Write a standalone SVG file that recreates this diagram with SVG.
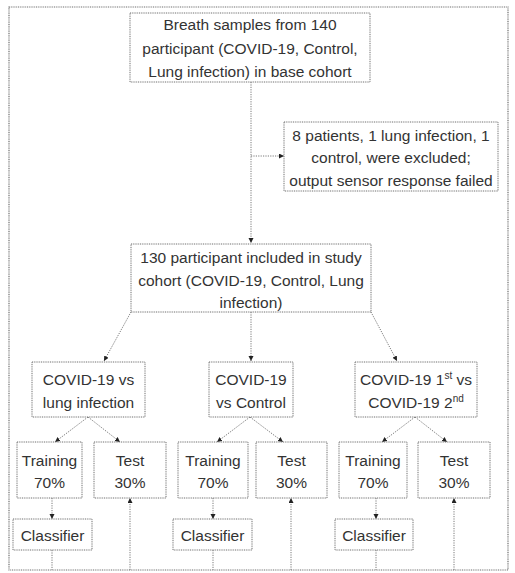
<svg xmlns="http://www.w3.org/2000/svg" width="515" height="573" viewBox="0 0 515 573">
<style>
.box{fill:#fff;stroke:#6e6e6e;stroke-width:1;stroke-dasharray:1 0.8}
.frame{fill:#fff;stroke:#6e6e6e;stroke-width:1.2;stroke-dasharray:1 0.8}
.t{font-family:"Liberation Sans",Arial,sans-serif;font-size:15.5px;fill:#333;text-anchor:middle}
.sup{font-size:10px}
.c{fill:none;stroke:#7a7a7a;stroke-width:1;stroke-dasharray:1.2 1.2}
</style>
<defs>
<marker id="ah" markerUnits="userSpaceOnUse" markerWidth="6" markerHeight="6" refX="5" refY="2.5" orient="auto">
<path d="M0,0 L5,2.5 L0,5 z" fill="#222"/>
</marker>
</defs>
<rect class="frame" x="9" y="7" width="499" height="563"/>
<g id="connectors">
<path class="c" d="M251,82 V243" marker-end="url(#ah)"/>
<path class="c" d="M251,156 H284" marker-end="url(#ah)"/>
<path class="c" d="M131,312 L104,361" marker-end="url(#ah)"/>
<path class="c" d="M251,312 V361" marker-end="url(#ah)"/>
<path class="c" d="M371,312 L397,361" marker-end="url(#ah)"/>
<path class="c" d="M88,417 L55,442" marker-end="url(#ah)"/>
<path class="c" d="M88,417 L120,442" marker-end="url(#ah)"/>
<path class="c" d="M250,417 L217,442" marker-end="url(#ah)"/>
<path class="c" d="M250,417 L283,442" marker-end="url(#ah)"/>
<path class="c" d="M415,417 L382,442" marker-end="url(#ah)"/>
<path class="c" d="M415,417 L447,442" marker-end="url(#ah)"/>
<path class="c" d="M52,498 V519" marker-end="url(#ah)"/>
<path class="c" d="M213,498 V519" marker-end="url(#ah)"/>
<path class="c" d="M376,498 V519" marker-end="url(#ah)"/>
<path class="c" d="M130,570 V498" marker-end="url(#ah)"/>
<path class="c" d="M291,570 V498" marker-end="url(#ah)"/>
<path class="c" d="M454,570 V498" marker-end="url(#ah)"/>
<path class="c" d="M52,550 V570"/>
<path class="c" d="M213,550 V570"/>
<path class="c" d="M376,550 V570"/>
</g>
<g id="base">
<rect class="box" x="130" y="13" width="240" height="69"/>
<text class="t" x="250" y="30">Breath samples from 140</text>
<text class="t" x="250" y="54">participant (COVID-19, Control,</text>
<text class="t" x="250" y="77">Lung infection) in base cohort</text>
</g>
<g id="excluded">
<rect class="box" x="284" y="122" width="214" height="69"/>
<text class="t" x="391" y="141">8 patients, 1 lung infection, 1</text>
<text class="t" x="391" y="163">control, were excluded;</text>
<text class="t" x="391" y="186">output sensor response failed</text>
</g>
<g id="study">
<rect class="box" x="131" y="244" width="240" height="68"/>
<text class="t" x="251" y="263">130 participant included in study</text>
<text class="t" x="251" y="286">cohort (COVID-19, Control, Lung</text>
<text class="t" x="251" y="308">infection)</text>
</g>
<g id="cmp1">
<rect class="box" x="32" y="362" width="113" height="55"/>
<text class="t" x="88.5" y="385">COVID-19 vs</text>
<text class="t" x="88.5" y="408">lung infection</text>
</g>
<g id="cmp2">
<rect class="box" x="209" y="362" width="84" height="55"/>
<text class="t" x="251" y="385">COVID-19</text>
<text class="t" x="251" y="408">vs Control</text>
</g>
<g id="cmp3">
<rect class="box" x="355" y="362" width="122" height="55"/>
<text class="t" x="416" y="385">COVID-19 1<tspan class="sup" dy="-6">st</tspan><tspan dy="6"> vs</tspan></text>
<text class="t" x="416" y="408">COVID-19 2<tspan class="sup" dy="-6">nd</tspan></text>
</g>
<g id="train1">
<rect class="box" x="17" y="442" width="65" height="56"/>
<text class="t" x="49.5" y="466">Training</text>
<text class="t" x="49.5" y="488">70%</text>
</g>
<g id="test1">
<rect class="box" x="94" y="442" width="72" height="56"/>
<text class="t" x="130" y="466">Test</text>
<text class="t" x="130" y="488">30%</text>
</g>
<g id="train2">
<rect class="box" x="178" y="442" width="70" height="56"/>
<text class="t" x="213" y="466">Training</text>
<text class="t" x="213" y="488">70%</text>
</g>
<g id="test2">
<rect class="box" x="256" y="442" width="71" height="56"/>
<text class="t" x="291.5" y="466">Test</text>
<text class="t" x="291.5" y="488">30%</text>
</g>
<g id="train3">
<rect class="box" x="339" y="442" width="68" height="56"/>
<text class="t" x="373" y="466">Training</text>
<text class="t" x="373" y="488">70%</text>
</g>
<g id="test3">
<rect class="box" x="418" y="442" width="72" height="56"/>
<text class="t" x="454" y="466">Test</text>
<text class="t" x="454" y="488">30%</text>
</g>
<g id="clf1">
<rect class="box" x="13" y="519" width="79" height="31"/>
<text class="t" x="52.5" y="541">Classifier</text>
</g>
<g id="clf2">
<rect class="box" x="173" y="519" width="79" height="31"/>
<text class="t" x="212.5" y="541">Classifier</text>
</g>
<g id="clf3">
<rect class="box" x="335" y="519" width="78" height="31"/>
<text class="t" x="374" y="541">Classifier</text>
</g>
</svg>
